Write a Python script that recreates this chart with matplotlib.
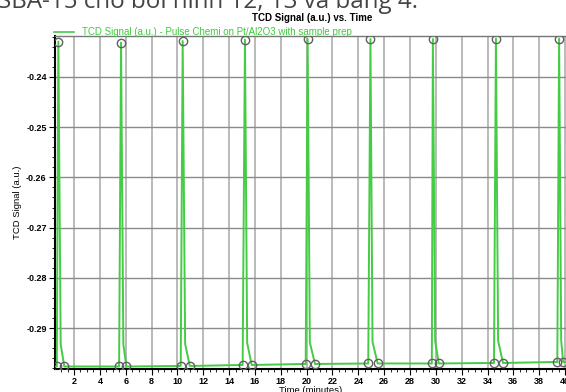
import matplotlib
matplotlib.use("Agg")
import matplotlib.pyplot as plt
from matplotlib.ticker import MultipleLocator, AutoMinorLocator, FormatStrFormatter

# pulse data (time in minutes, TCD signal in a.u.)
pulse_start = [0.67, 5.49, 10.26, 15.05, 19.93, 24.77, 29.69, 34.50, 39.40]
pulse_top_t = [0.79, 5.64, 10.41, 15.23, 20.08, 24.94, 29.77, 34.65, 39.54]
pulse_top = [-0.2330, -0.2332, -0.2329, -0.2326, -0.2325, -0.2325, -0.2325, -0.2324, -0.2324]
knee_t = [0.97, 5.82, 10.60, 15.40, 20.25, 25.10, 29.95, 34.82, 39.70]
knee_val = [-0.2932, -0.2932, -0.2931, -0.2929, -0.2928, -0.2927, -0.2926, -0.2925, -0.2924]
pulse_end = [1.25, 6.05, 10.96, 15.75, 20.65, 25.50, 30.23, 35.20, 39.85]
baseline = [-0.2976, -0.2976, -0.2975, -0.2973, -0.2971, -0.2970, -0.2970, -0.2969, -0.2967]

t = [0.55]
v = [baseline[0]]
for i in range(len(pulse_start)):
    t += [pulse_start[i], pulse_top_t[i], knee_t[i], pulse_end[i]]
    v += [baseline[i], pulse_top[i], knee_val[i], baseline[i]]
t.append(40.2)
v.append(baseline[-1])

mark_t = []
mark_v = []
for i in range(len(pulse_start)):
    mark_t += [pulse_start[i], pulse_top_t[i], pulse_end[i]]
    mark_v += [baseline[i], pulse_top[i], baseline[i]]

plt.rcParams['font.family'] = ['Liberation Sans', 'DejaVu Sans']

fig = plt.figure(figsize=(5.66, 3.92), dpi=100)
ax = fig.add_axes([55/566, 23/392, 512/566, 333/392])

ax.plot(t, v, color='#44cc44', lw=1.4, zorder=3)
ax.plot(mark_t, mark_v, 'o', ms=6, mfc='none', mec='#606060', mew=1.0, zorder=4)

ax.set_xlim(0.53, 40.15)
ax.set_ylim(-0.2981, -0.2319)

ax.xaxis.set_major_locator(MultipleLocator(2))
ax.xaxis.set_minor_locator(AutoMinorLocator(4))
ax.yaxis.set_major_locator(MultipleLocator(0.01))
ax.yaxis.set_minor_locator(AutoMinorLocator(5))
ax.yaxis.set_major_formatter(FormatStrFormatter('%.2f'))

ax.grid(axis='x', which='major', color='#b4b4b4', lw=1.3)
ax.grid(axis='y', which='major', color='#8a8a8a', lw=1.0)
ax.set_axisbelow(True)

ax.spines['right'].set_visible(False)
ax.spines['top'].set_color('#777777')
ax.spines['top'].set_linewidth(1.0)
ax.spines['left'].set_linewidth(1.5)
ax.spines['bottom'].set_linewidth(1.5)

ax.tick_params(which='major', length=4, width=0.8, labelsize=6.5, pad=2)
ax.tick_params(which='minor', length=2, width=0.6)
for lab in ax.get_xticklabels() + ax.get_yticklabels():
    lab.set_fontweight('bold')

ax.set_xlabel('Time (minutes)', fontsize=6.8, labelpad=0)
ax.set_ylabel('TCD Signal (a.u.)', fontsize=6.8, labelpad=3)

fig.text(312/566, 1 - 18/392, 'TCD Signal (a.u.) vs. Time', ha='center', va='center',
         fontsize=7, fontweight='bold')
fig.lines.append(plt.Line2D([54/566, 74/566], [1 - 31.7/392, 1 - 31.7/392],
                            transform=fig.transFigure, color='#44cc44', lw=1.2))
fig.text(82/566, 1 - 31.7/392, 'TCD Signal (a.u.) - Pulse Chemi on Pt/Al2O3 with sample prep',
         ha='left', va='center', fontsize=7, color='#3ccc3c')

# cut-off document text above the chart
fig.text(-2/566, 1 - 7.5/392, 'SBA-15 cho bởi hình 12, 13 và bảng 4.', ha='left',
         va='baseline', fontsize=17.4, color='#444444', family=['Open Sans', 'DejaVu Sans'])

fig.savefig('out.png', dpi=100)
